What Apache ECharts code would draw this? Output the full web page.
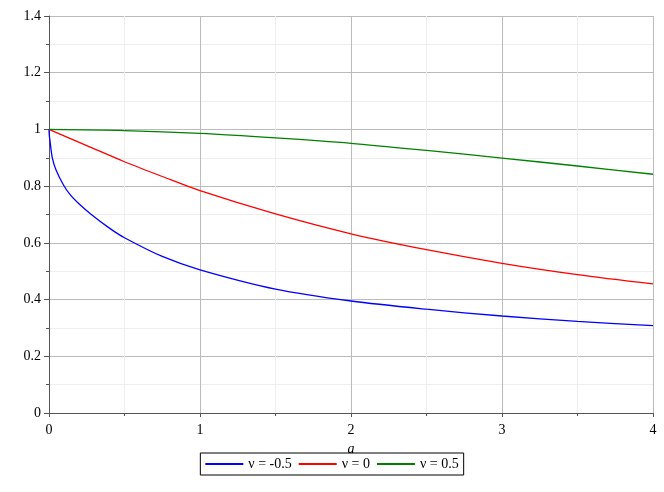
<!DOCTYPE html>
<html>
<head>
<meta charset="utf-8">
<script src="https://cdn.jsdelivr.net/npm/echarts@6/dist/echarts.min.js"></script>
<style>html,body{margin:0;padding:0;background:#fff;}#c{width:664px;height:492px;}</style>
</head>
<body>
<div id="c"></div>
<script>
const seriesNames = ['ν = -0.5', 'ν = 0', 'ν = 0.5'];
const blueA = [0, 0.002, 0.007, 0.022, 0.046, 0.095, 0.14, 0.2, 0.28, 0.4, 0.5, 0.75, 1, 1.5, 2, 2.5, 3, 3.5, 4];
const blueV = [1, 0.98, 0.958, 0.9, 0.858, 0.805, 0.77, 0.737, 0.7, 0.652, 0.618, 0.552, 0.505, 0.437, 0.395, 0.366, 0.342, 0.323, 0.308];
const redA = [0, 0.25, 0.5, 0.75, 1, 1.5, 2, 2.5, 3, 3.5, 4];
const redV = [1, 0.943, 0.886, 0.834, 0.784, 0.702, 0.632, 0.576, 0.528, 0.488, 0.455];
const greenA = [0, 0.5, 1, 1.5, 2, 2.5, 3, 3.5, 4];
const greenV = [1, 0.996, 0.986, 0.970, 0.951, 0.926, 0.899, 0.871, 0.842];
const colors = ['#0000ff', '#ff0000', '#008000'];

const zip = (a, v) => a.map((x, i) => [x, v[i]]);
const font = 'Liberation Serif';
const chart = echarts.init(document.getElementById('c'), null, {renderer: 'canvas'});
const mk = (name, data, color) => ({
  name, type: 'line', data, showSymbol: false, smooth: 0.3,
  lineStyle: {color, width: 1.3}, itemStyle: {color}, animation: false
});
chart.setOption({
  animation: false,
  grid: {left: 49, right: 11, top: 16, bottom: 79, containLabel: false},
  legend: {
    left: 'center', top: 453, padding: [4, 5], itemGap: 7,
    itemWidth: 38, itemHeight: 2, icon: 'rect',
    borderColor: '#000', borderWidth: 1,
    textStyle: {fontFamily: font, fontSize: 14, color: '#000'},
    data: seriesNames
  },
  xAxis: {
    type: 'value', min: 0, max: 4, interval: 1,
    name: 'a', nameLocation: 'middle', nameGap: 21,
    nameTextStyle: {fontFamily: font, fontSize: 14, fontStyle: 'italic', color: '#000'},
    axisLine: {onZero: false, lineStyle: {color: '#555'}},
    axisTick: {show: true, length: 4, lineStyle: {color: '#555'}},
    minorTick: {show: true, splitNumber: 2, length: 3, lineStyle: {color: '#555'}},
    axisLabel: {fontFamily: font, fontSize: 14, color: '#000', margin: 10},
    splitLine: {show: true, lineStyle: {color: '#bbb'}},
    minorSplitLine: {show: true, lineStyle: {color: '#eee'}}
  },
  yAxis: {
    type: 'value', min: 0, max: 1.4, interval: 0.2,
    axisLine: {show: true, onZero: false, lineStyle: {color: '#555'}},
    axisTick: {show: true, length: 5, lineStyle: {color: '#555'}},
    minorTick: {show: true, splitNumber: 2, length: 3, lineStyle: {color: '#555'}},
    axisLabel: {fontFamily: font, fontSize: 14, color: '#000', margin: 8},
    splitLine: {show: true, lineStyle: {color: '#bbb'}},
    minorSplitLine: {show: true, lineStyle: {color: '#eee'}}
  },
  series: [
    mk(seriesNames[0], zip(blueA, blueV), colors[0]),
    mk(seriesNames[1], zip(redA, redV), colors[1]),
    mk(seriesNames[2], zip(greenA, greenV), colors[2])
  ]
});
</script>
</body>
</html>
